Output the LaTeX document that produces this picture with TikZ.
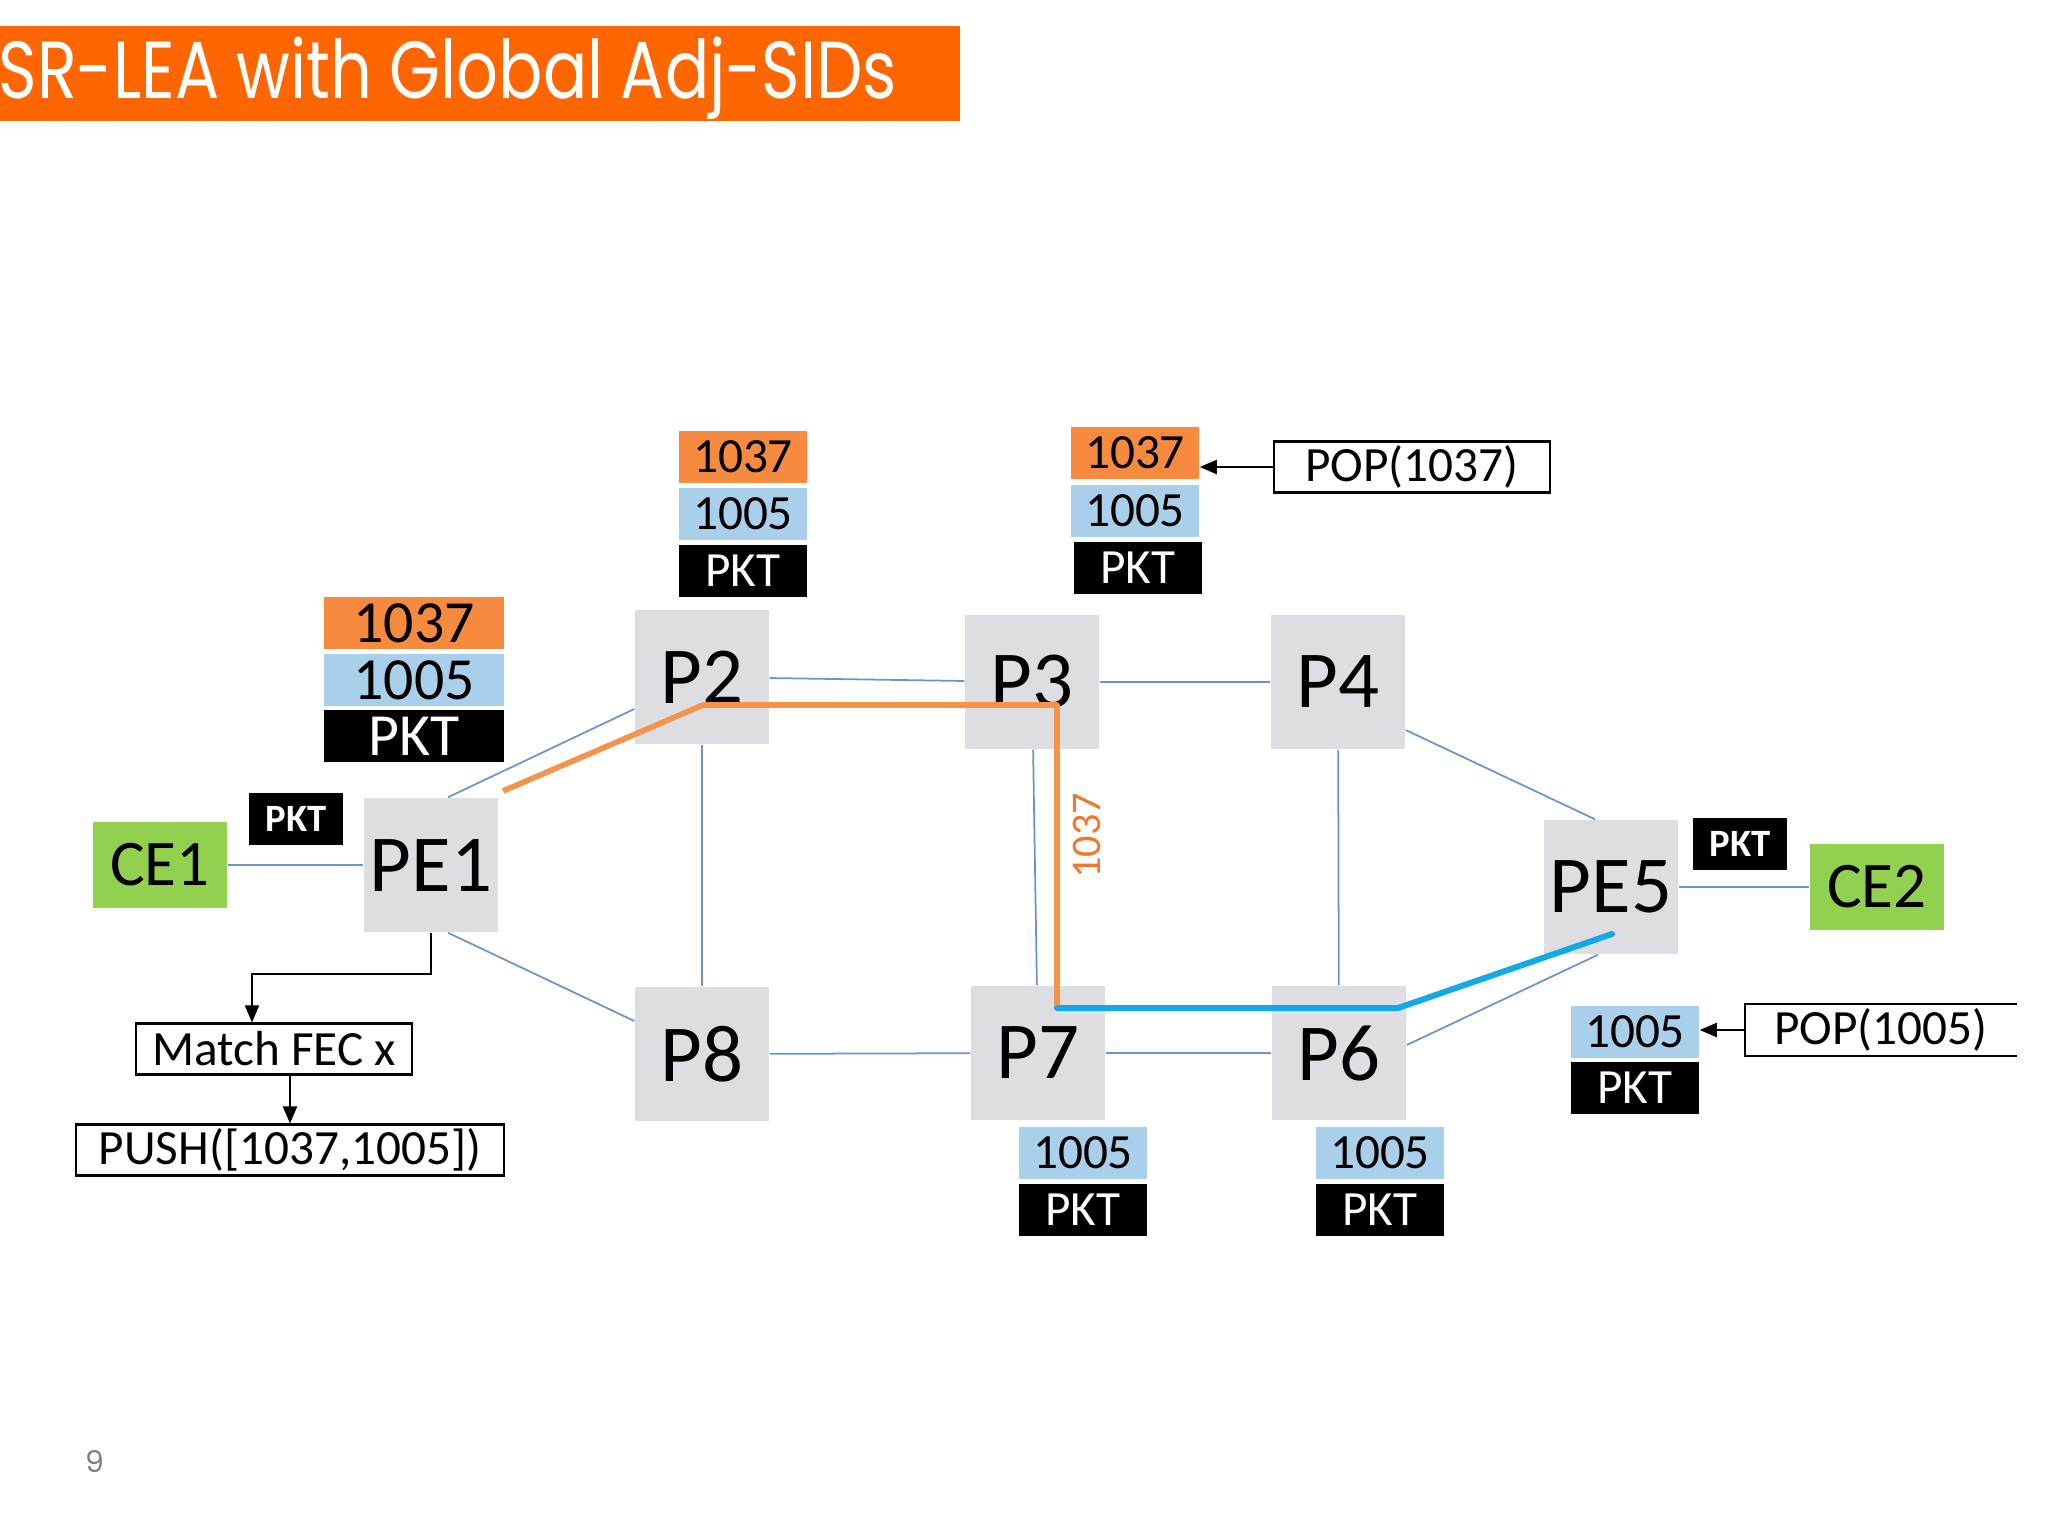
\documentclass[tikz,border=0pt]{standalone}
\usepackage{fontspec}
\setmainfont{Carlito}
\newfontfamily\titlefont{Poppins}
\usetikzlibrary{arrows.meta}

\definecolor{titleorange}{HTML}{FF6600}
\definecolor{sidorange}{HTML}{F68B3F}
\definecolor{sidblue}{HTML}{A9CFEA}
\definecolor{routergray}{HTML}{DEDEE2}
\definecolor{cegreen}{HTML}{92D050}
\definecolor{linkblue}{HTML}{6A94CC}
\definecolor{pathblue}{HTML}{12A9E6}
\definecolor{pathorange}{HTML}{F4934A}
\definecolor{textorange}{HTML}{F0782C}

\begin{document}
\begin{tikzpicture}[x=0.01cm,y=-0.01cm,
  router/.style={fill=routergray,minimum size=1.34cm,inner sep=0pt,font=\fontsize{23}{23}\selectfont},
  ce/.style={fill=cegreen,minimum width=1.34cm,minimum height=0.85cm,inner sep=0pt,font=\fontsize{18.5}{18.5}\selectfont},
  sidA/.style={fill=sidorange,minimum width=1.28cm,minimum height=0.52cm,inner sep=0pt,font=\fontsize{14}{14}\selectfont},
  sidB/.style={sidA,fill=sidblue},
  pkt/.style={sidA,fill=black,text=white},
  bigsid/.style={minimum width=1.79cm,font=\fontsize{17}{17}\selectfont},
  pktsmall/.style={fill=black,text=white,minimum width=0.94cm,minimum height=0.52cm,inner sep=0pt,font=\fontsize{11}{11}\selectfont\bfseries},
  action/.style={draw,line width=0.6pt,minimum height=0.51cm,inner sep=0pt,font=\fontsize{14}{14}\selectfont},
  link/.style={linkblue,line width=0.5pt},
  arrow/.style={-{Triangle[length=0.17cm,width=0.14cm]},line width=0.6pt}]
\useasboundingbox (0,0) rectangle (2048,1536);

% Title bar
\fill [titleorange] (0,26) rectangle (960,121);
\node [anchor=base west,inner sep=0pt,text=white,font=\titlefont\fontsize{23}{23}\selectfont] (title) at (-2,98) {\scalebox{0.81}[1]{SR-LEA with Global Adj-SIDs}};
\node [anchor=base,inner sep=0pt,text=gray,font=\titlefont\fontsize{8.5}{8.5}\selectfont] (page) at (95,1472) {9};

% Routers
\node [ce] (ce1) at (160,865) {CE1};
\node [router] (pe1) at (431,865) {PE1};
\node [router] (p2) at (702,677) {P2};
\node [router] (p3) at (1032,682) {P3};
\node [router] (p4) at (1338,682) {P4};
\node [router] (pe5) at (1611,887) {PE5};
\node [ce] (ce2) at (1877,887) {CE2};
\node [router] (p8) at (702,1054) {P8};
\node [router] (p7) at (1038,1053) {P7};
\node [router] (p6) at (1339,1053) {P6};

% Links
\draw [link] (ce1) -- (pe1);
\draw [link] ([xshift=0.17cm]pe1.north) -- ([yshift=-0.32cm]p2.west);
\draw [link] ([xshift=0.17cm]pe1.south) -- ([yshift=0.33cm]p8.west);
\draw [link] (p2) -- (p3);
\draw [link] (p3) -- (p4);
\draw [link] (p2) -- (p8);
\draw [link] (p3) -- (p7);
\draw [link] (p4) -- (p6);
\draw [link] (p8) -- (p7);
\draw [link] (p7) -- (p6);
\draw [link] ([yshift=-0.48cm]p4.east) -- ([xshift=-0.16cm]pe5.north);
\draw [link] ([yshift=0.08cm]p6.east) -- ([xshift=-0.13cm]pe5.south);
\draw [link] (pe5) -- (ce2);

% Label path
\coordinate (orA) at (503,791);
\coordinate (orB) at (703,705);
\coordinate (orC) at (1057,705);
\coordinate (orD) at (1057,1008);
\coordinate (blB) at (1398,1008);
\coordinate (blC) at (1612,934);
\draw [pathorange,line width=1.6pt,line join=round] (orA) -- (orB) -- (orC) -- (orD);
\draw [pathblue,line width=1.7pt,line cap=round,line join=round] (orD) -- (blB) -- (blC);
\node [rotate=90,text=textorange,inner sep=0pt,font=\fontsize{12}{12}\selectfont] (lbl) at (1087,836) {1037};

% Label stacks
\node [sidA,bigsid] (pe1a) at (414,623) {1037};
\node [sidB,bigsid] (pe1b) at (414,680) {1005};
\node [pkt,bigsid] (pe1c) at (414,736) {PKT};
\node [sidA] (p2a) at (743,457) {1037};
\node [sidB] (p2b) at (743,514) {1005};
\node [pkt] (p2c) at (743,571) {PKT};
\node [sidA] (p3a) at (1135,453) {1037};
\node [sidB] (p3b) at (1135,511) {1005};
\node [pkt] (p3c) at (1138,568) {PKT};
\node [sidB] (p7b) at (1083,1153) {1005};
\node [pkt] (p7c) at (1083,1210) {PKT};
\node [sidB] (p6b) at (1380,1153) {1005};
\node [pkt] (p6c) at (1380,1210) {PKT};
\node [sidB] (pe5b) at (1635,1032) {1005};
\node [pkt] (pe5c) at (1635,1088) {PKT};
\node [pktsmall] (pkt1) at (296,819) {PKT};
\node [pktsmall] (pkt5) at (1740,844) {PKT};

% Actions
\node [action,minimum width=2.75cm] (match) at (274,1049) {Match FEC x};
\node [action,minimum width=4.27cm] (push) at (290,1150) {PUSH([1037,1005])};
\node [action,minimum width=2.75cm] (pop7) at (1412,467) {POP(1037)};
\node [minimum width=2.7cm,minimum height=0.51cm,inner sep=0pt,font=\fontsize{14}{14}\selectfont] (pop5) at (1881,1030) {POP(1005)};
\draw [line width=0.6pt] (pop5.north east) -- (pop5.north west) -- (pop5.south west) -- (pop5.south east);
\draw [arrow] (pe1.south) -- ++(0,41) -| ([xshift=-0.22cm]match.north);
\draw [arrow] (push.north |- match.south) -- (push.north);
\draw [arrow] (pop7.west) -- (pop7.west -| p3a.east);
\draw [arrow] (pop5.west) -- (pop5.west -| pe5b.east);
\end{tikzpicture}
\end{document}
